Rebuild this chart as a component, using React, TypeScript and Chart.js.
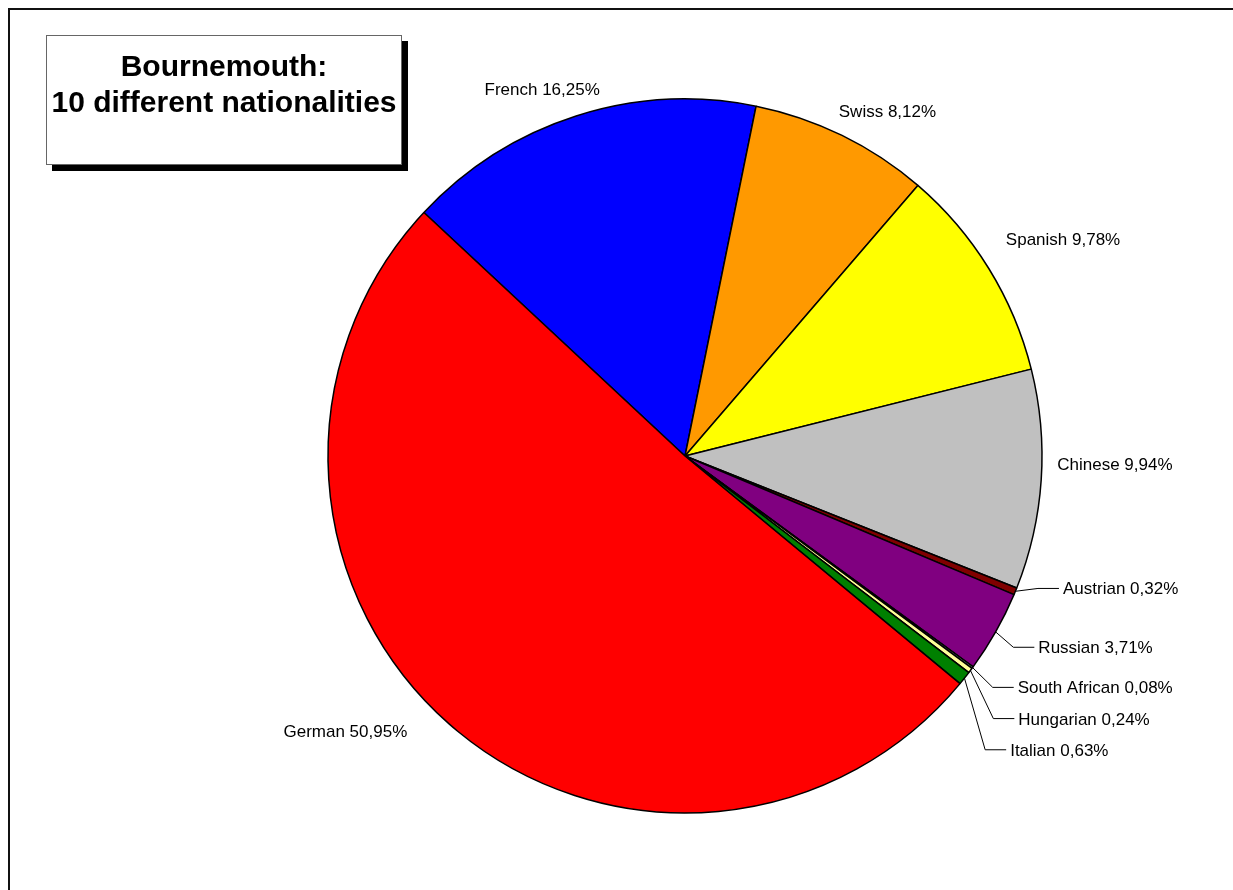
import React, { useEffect, useRef } from "react";
import { Chart, registerables } from "chart.js";

Chart.register(...registerables);

// ---- data ----
const nationalities = [
  "French",
  "Swiss",
  "Spanish",
  "Chinese",
  "Austrian",
  "Russian",
  "South African",
  "Hungarian",
  "Italian",
  "German",
];
const shares = [16.25, 8.12, 9.78, 9.94, 0.32, 3.71, 0.08, 0.24, 0.63, 50.95];
const sliceColors = [
  "#0000FF",
  "#FF9900",
  "#FFFF00",
  "#C0C0C0",
  "#800000",
  "#800080",
  "#CCFFFF",
  "#FFFF99",
  "#008000",
  "#FF0000",
];
const titleLines = ["Bournemouth:", "10 different nationalities"];

// label placement relative to each slice's mid-angle (degrees) and outer edge (px)
const labelPlacements = [
  { dA: -3.5, dR: 37 },
  { dA: 4.3, dR: 43 },
  { dA: 1.8, dR: 79 },
  { dA: -2.7, dR: 73 },
  { dA: -1.7, dR: 20, leader: true },
  { dA: 0.7, dR: 23, leader: true },
  { dA: 0.6, dR: 28, leader: true },
  { dA: 3.5, dR: 48, leader: true },
  { dA: 5.9, dR: 63, leader: true },
  { dA: 9.7, dR: 80 },
];

const formatShare = (v: number) => v.toFixed(2).replace(".", ",") + "%";

const pieLabels = {
  id: "pieLabels",
  afterDatasetsDraw(chart: any, _args: any, opts: any) {
    const ctx = chart.ctx as CanvasRenderingContext2D;
    const meta = chart.getDatasetMeta(0);
    const labels = chart.data.labels as string[];
    const values = chart.data.datasets[0].data as number[];
    ctx.save();
    ctx.font = opts.font;
    ctx.fillStyle = opts.color;
    ctx.strokeStyle = opts.lineColor;
    ctx.lineWidth = 1;
    meta.data.forEach((arc: any, i: number) => {
      const p = arc.getProps(["x", "y", "startAngle", "endAngle", "outerRadius"], true);
      const mid = (p.startAngle + p.endAngle) / 2;
      const place = opts.placements[i];
      const a = mid + (place.dA * Math.PI) / 180;
      const rr = p.outerRadius + place.dR;
      const ax = p.x + Math.cos(a) * rr;
      const ay = p.y + Math.sin(a) * rr;
      const text = `${labels[i]} ${formatShare(values[i])}`;
      ctx.textBaseline = "alphabetic";
      if (place.leader) {
        const sx = p.x + Math.cos(mid) * p.outerRadius;
        const sy = p.y + Math.sin(mid) * p.outerRadius;
        ctx.beginPath();
        ctx.moveTo(sx, sy);
        ctx.lineTo(ax, ay);
        ctx.lineTo(ax + opts.tail, ay);
        ctx.stroke();
        ctx.textAlign = "left";
        ctx.fillText(text, ax + opts.tail + 4, ay + 6);
      } else {
        ctx.textAlign = "center";
        ctx.fillText(text, ax, ay + 6);
      }
    });
    ctx.restore();
  },
};

const W = 1225;
const H = 882;

export default function App() {
  const ref = useRef<HTMLCanvasElement>(null);

  useEffect(() => {
    document.documentElement.style.overflow = "hidden";
    document.body.style.overflow = "hidden";
    if (!ref.current) return;
    const chart = new Chart(ref.current, {
      type: "pie",
      data: {
        labels: nationalities,
        datasets: [
          {
            data: shares,
            backgroundColor: sliceColors,
            borderColor: "#000000",
            borderWidth: 1.5,
            rotation: 313,
            radius: 357,
          } as any,
        ],
      },
      options: {
        responsive: false,
        maintainAspectRatio: false,
        animation: false,
        devicePixelRatio: 1,
        events: [],
        layout: { padding: { left: 140, right: 11, top: 14, bottom: 0 } },
        plugins: {
          legend: { display: false },
          tooltip: { enabled: false },
          title: { display: false },
          pieLabels: {
            font: "17px Arial, 'Liberation Sans', sans-serif",
            color: "#000000",
            lineColor: "#000000",
            tail: 21,
            placements: labelPlacements,
          },
        } as any,
      },
      plugins: [pieLabels],
    });
    return () => chart.destroy();
  }, []);

  return (
    <div
      style={{
        position: "relative",
        width: W,
        height: H,
        background: "#ffffff",
      }}
    >
      <canvas
        ref={ref}
        width={W}
        height={H}
        style={{ position: "absolute", left: 0, top: 0, width: W, height: H }}
      />
      <div
        style={{
          position: "fixed",
          left: 8,
          top: 8,
          width: 1600,
          height: 1200,
          borderLeft: "2px solid #111",
          borderTop: "2px solid #111",
          pointerEvents: "none",
        }}
      />
      <div
        style={{
          position: "absolute",
          left: 38,
          top: 27,
          width: 356,
          height: 130,
          boxSizing: "border-box",
          border: "1px solid #666",
          background: "#ffffff",
          boxShadow: "6px 6px 0 #000",
          paddingTop: 12,
          textAlign: "center",
          fontFamily: "Arial, 'Liberation Sans', sans-serif",
          fontWeight: "bold",
          fontSize: 30,
          lineHeight: "36px",
          color: "#000",
          whiteSpace: "nowrap",
        }}
      >
        {titleLines.map((t) => (
          <div key={t}>{t}</div>
        ))}
      </div>
    </div>
  );
}
